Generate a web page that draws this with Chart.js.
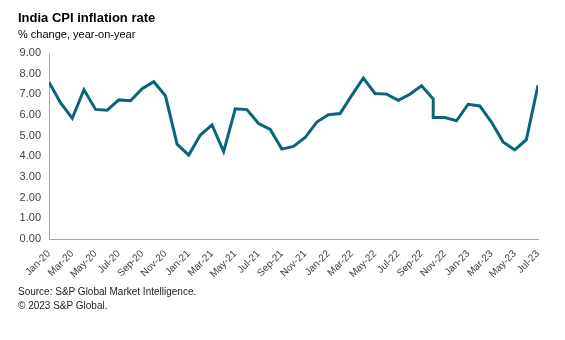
<!DOCTYPE html>
<html>
<head>
<meta charset="utf-8">
<script src="https://cdn.jsdelivr.net/npm/chart.js@4.4.1/dist/chart.umd.min.js"></script>
<style>
  html, body { margin:0; padding:0; background:#fff; }
  #wrap { position:relative; width:565px; height:340px; font-family:"Liberation Sans", Arial, sans-serif; color:#000; }
  #chart { position:absolute; left:0; top:0; }
  .txt { position:absolute; left:18px; white-space:nowrap; }
  #title { top:10px; font-size:13px; font-weight:bold; }
  #subtitle { top:28px; font-size:11px; }
  #source { top:286px; font-size:10px; color:#222; }
  #copy { top:300px; font-size:10px; color:#222; }
</style>
</head>
<body>
<div id="wrap">
  <canvas id="chart" width="565" height="340"></canvas>
  <div class="txt" id="title">India CPI inflation rate</div>
  <div class="txt" id="subtitle">% change, year-on-year</div>
  <div class="txt" id="source">Source: S&amp;P Global Market Intelligence.</div>
  <div class="txt" id="copy">© 2023 S&amp;P Global.</div>
</div>
<script>
// month axis (one slot per month)
const months = [
  'Jan-20','Feb-20','Mar-20','Apr-20','May-20','Jun-20','Jul-20','Aug-20','Sep-20','Oct-20','Nov-20','Dec-20',
  'Jan-21','Feb-21','Mar-21','Apr-21','May-21','Jun-21','Jul-21','Aug-21','Sep-21','Oct-21','Nov-21','Dec-21',
  'Jan-22','Feb-22','Mar-22','Apr-22','May-22','Jun-22','Jul-22','Aug-22','Sep-22','Oct-22','Nov-22','Dec-22',
  'Jan-23','Feb-23','Mar-23','Apr-23','May-23','Jun-23','Jul-23'
];

// observations: Oct-22 appears twice in the series
const obsMonths = [
  'Jan-20','Feb-20','Mar-20','Apr-20','May-20','Jun-20','Jul-20','Aug-20','Sep-20','Oct-20','Nov-20','Dec-20',
  'Jan-21','Feb-21','Mar-21','Apr-21','May-21','Jun-21','Jul-21','Aug-21','Sep-21','Oct-21','Nov-21','Dec-21',
  'Jan-22','Feb-22','Mar-22','Apr-22','May-22','Jun-22','Jul-22','Aug-22','Sep-22','Oct-22','Oct-22','Nov-22','Dec-22',
  'Jan-23','Feb-23','Mar-23','Apr-23','May-23','Jun-23','Jul-23'
];
const cpi = [
  7.59, 6.58, 5.84, 7.22, 6.27, 6.23, 6.73, 6.69, 7.27, 7.61, 6.93, 4.59,
  4.06, 5.03, 5.52, 4.23, 6.30, 6.26, 5.59, 5.30, 4.35, 4.48, 4.91, 5.66,
  6.01, 6.07, 6.95, 7.79, 7.04, 7.01, 6.71, 7.00, 7.41, 6.77, 5.88, 5.88, 5.72,
  6.52, 6.44, 5.66, 4.70, 4.31, 4.81, 7.44
];

const points = obsMonths.map((m, i) => ({ x: months.indexOf(m), y: cpi[i] }));

const axisGrey = '#a6a6a6';
const tickColor = '#404040';

new Chart(document.getElementById('chart'), {
  type: 'line',
  data: {
    datasets: [{
      data: points,
      borderColor: '#0b6478',
      borderWidth: 3,
      pointRadius: 0,
      tension: 0,
      fill: false
    }]
  },
  options: {
    responsive: false,
    animation: false,
    layout: { padding: { top: 53, right: 27, bottom: 0, left: 0 } },
    plugins: { legend: { display: false }, tooltip: { enabled: false } },
    scales: {
      x: {
        type: 'linear',
        min: 0,
        max: months.length - 1,
        afterFit: s => { s.height = 101; },
        afterBuildTicks: s => { s.ticks = months.map((m, i) => ({ value: i })).filter(t => t.value % 2 === 0); },
        grid: { display: false, drawTicks: false },
        border: { display: true, color: axisGrey, width: 1 },
        ticks: {
          minRotation: 45, maxRotation: 45, autoSkip: false, padding: 9,
          color: tickColor,
          font: { family: 'Liberation Sans', size: 10 },
          callback: v => months[v]
        }
      },
      y: {
        min: 0,
        max: 9,
        afterFit: s => { s.width = 49; },
        grid: { display: false, drawTicks: false },
        border: { display: true, color: axisGrey, width: 1 },
        ticks: {
          stepSize: 1, padding: 8,
          color: tickColor,
          font: { family: 'Liberation Sans', size: 11 },
          callback: v => v.toFixed(2)
        }
      }
    }
  }
});
</script>
</body>
</html>
